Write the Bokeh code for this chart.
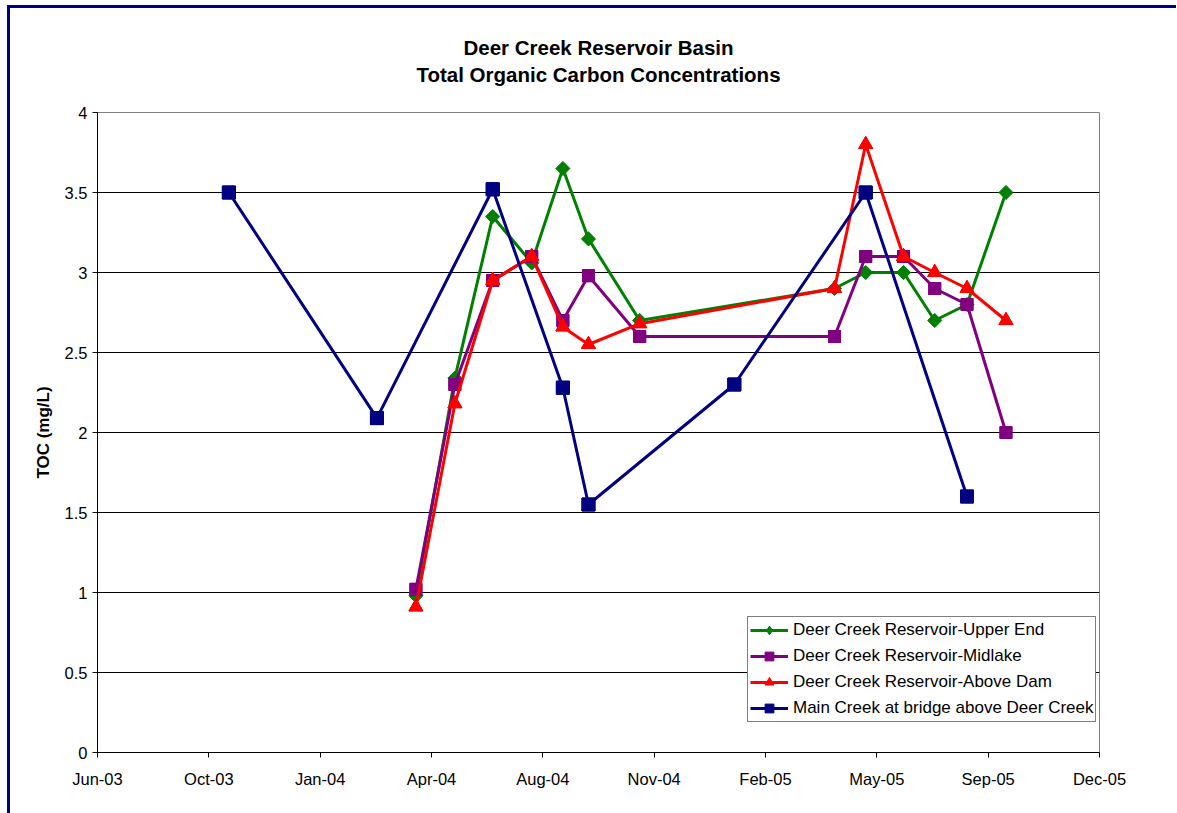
from datetime import datetime, timedelta
import math
import pandas as pd
from bokeh.plotting import figure
from bokeh.models import (Range1d, FixedTicker, DatetimeTickFormatter, Title,
                          Legend, LegendItem, ColumnDataSource)
from bokeh.embed import file_html
from bokeh.resources import INLINE

# ---------------- data ----------------
res_dates = ["2004-04-09", "2004-05-14", "2004-06-17", "2004-07-22", "2004-08-19",
             "2004-09-11", "2004-10-27", "2005-04-20", "2005-05-18", "2005-06-21",
             "2005-07-19", "2005-08-17", "2005-09-21"]
upper_end = [0.98, 2.34, 3.35, 3.06, 3.65, 3.21, 2.70, 2.90, 3.00, 3.00, 2.70, 2.80, 3.50]
midlake = [1.02, 2.30, 2.95, 3.10, 2.70, 2.98, 2.60, 2.60, 3.10, 3.10, 2.90, 2.80, 2.00]
above_dam = [0.91, 2.18, 2.95, 3.10, 2.66, 2.55, 2.68, 2.90, 3.80, 3.10, 3.00, 2.90, 2.70]

main_dates = ["2003-10-24", "2004-03-05", "2004-06-17", "2004-08-19", "2004-09-11",
              "2005-01-20", "2005-05-18", "2005-08-17"]
main_creek = [3.50, 2.09, 3.52, 2.28, 1.55, 2.30, 3.50, 1.60]

series_names = ["Deer Creek Reservoir-Upper End", "Deer Creek Reservoir-Midlake",
                "Deer Creek Reservoir-Above Dam", "Main Creek at bridge above Deer Creek"]

x_start = "2003-06-28"
x_step_days = 100
x_n_ticks = 10
y_ticks = [0, 0.5, 1, 1.5, 2, 2.5, 3, 3.5, 4]
y_tick_labels = ["0", "0.5", "1", "1.5", "2", "2.5", "3", "3.5", "4"]
title_lines = ["Deer Creek Reservoir Basin", "Total Organic Carbon Concentrations"]
y_label = "TOC (mg/L)"

# ---------------- figure ----------------
FONT = "Liberation Sans"
t0 = datetime.fromisoformat(x_start)
tick_dates = [t0 + timedelta(days=x_step_days * i) for i in range(x_n_ticks)]
tick_ms = [(d - datetime(1970, 1, 1)).total_seconds() * 1000 for d in tick_dates]

p = figure(width=1166, height=805, x_axis_type="datetime",
           output_backend="svg", toolbar_location=None,
           x_range=Range1d(tick_dates[0], tick_dates[-1]),
           y_range=Range1d(0, 4),
           frame_width=1002, frame_height=640,
           min_border_left=87, min_border_top=104, min_border_right=77,
           min_border_bottom=61)
p.styles = {"margin-left": "7px", "margin-top": "5px",
            "border-left": "3px solid #000080", "border-top": "3px solid #000080"}

p.background_fill_color = "white"
p.border_fill_color = "white"
p.outline_line_color = "#808080"
p.outline_line_width = 1

# spacer between frame and titles, then the two title lines
spacer = Title(text=".", text_font_size="12px", text_color="white", standoff=13)
t2 = Title(text=title_lines[1], align="center", text_font=FONT, text_color="black",
           text_font_size="20.5px", text_font_style="bold", standoff=5)
t1 = Title(text=title_lines[0], align="center", text_font=FONT, text_color="black",
           text_font_size="20.5px", text_font_style="bold", standoff=0)
p.add_layout(spacer, "above")
p.add_layout(t2, "above")
p.add_layout(t1, "above")

# axes
p.xaxis.ticker = FixedTicker(ticks=tick_ms)
fmt = "%b-%y"
p.xaxis.formatter = DatetimeTickFormatter(
    milliseconds=fmt, seconds=fmt, minsec=fmt, minutes=fmt, hourmin=fmt,
    hours=fmt, days=fmt, months=fmt, years=fmt)
p.yaxis.ticker = FixedTicker(ticks=y_ticks)
p.yaxis.major_label_overrides = {t: l for t, l in zip(y_ticks, y_tick_labels)}
p.yaxis.axis_label = y_label
p.yaxis.axis_label_text_font = FONT
p.yaxis.axis_label_text_font_style = "bold"
p.yaxis.axis_label_text_font_size = "17px"
p.yaxis.axis_label_text_color = "black"
p.yaxis.axis_label_standoff = 9

for ax in (p.xaxis, p.yaxis):
    ax.major_label_text_font = FONT
    ax.major_label_text_font_size = "16.5px"
    ax.major_label_text_color = "black"
    ax.axis_line_color = "black"
    ax.major_tick_line_color = "black"
    ax.major_tick_out = 5
    ax.major_tick_in = 0
    ax.minor_tick_line_color = None
p.xaxis.major_label_standoff = 12
p.yaxis.major_label_standoff = 5

p.xgrid.grid_line_color = None
p.ygrid.ticker = FixedTicker(ticks=y_ticks)
p.ygrid.grid_line_color = "black"
p.ygrid.grid_line_width = 1

# ---------------- series ----------------
res_x = pd.to_datetime(res_dates)
main_x = pd.to_datetime(main_dates)

specs = [
    (res_x, upper_end, "#008000", "square", 10, math.pi / 4, "diamond"),
    (res_x, midlake, "#800080", "square", 12, 0, "square"),
    (res_x, above_dam, "#FF0000", "triangle", 14, 0, "triangle"),
    (main_x, main_creek, "#000080", "square", 13, 0, "square"),
]

items = []
for (xs, ys, col, mk, sz, ang, lmk), name in zip(specs, series_names):
    src = ColumnDataSource(dict(x=xs, y=ys))
    ln = p.line("x", "y", source=src, line_color=col, line_width=3)
    # legend-swatch marker (hidden below the plotted marker)
    lg = p.scatter("x", "y", source=src, marker=lmk, size=sz - 2 if lmk == "diamond" else sz,
                   fill_color=col, line_color=col)
    p.scatter("x", "y", source=src, marker=mk, size=sz, angle=ang,
              fill_color=col, line_color=col)
    items.append(LegendItem(label=name, renderers=[ln, lg]))

legend = Legend(items=items, location=(650, 30), orientation="vertical")
legend.label_text_font = FONT
legend.label_text_font_size = "17px"
legend.label_text_color = "black"
legend.glyph_width = 38
legend.glyph_height = 22
legend.label_height = 22
legend.spacing = 4
legend.padding = 2
legend.margin = 0
legend.label_standoff = 5
legend.border_line_color = "black"
legend.border_line_width = 1
legend.background_fill_color = "white"
legend.background_fill_alpha = 1
p.add_layout(legend, "center")

open("out.html", "w").write(file_html(p, INLINE))
